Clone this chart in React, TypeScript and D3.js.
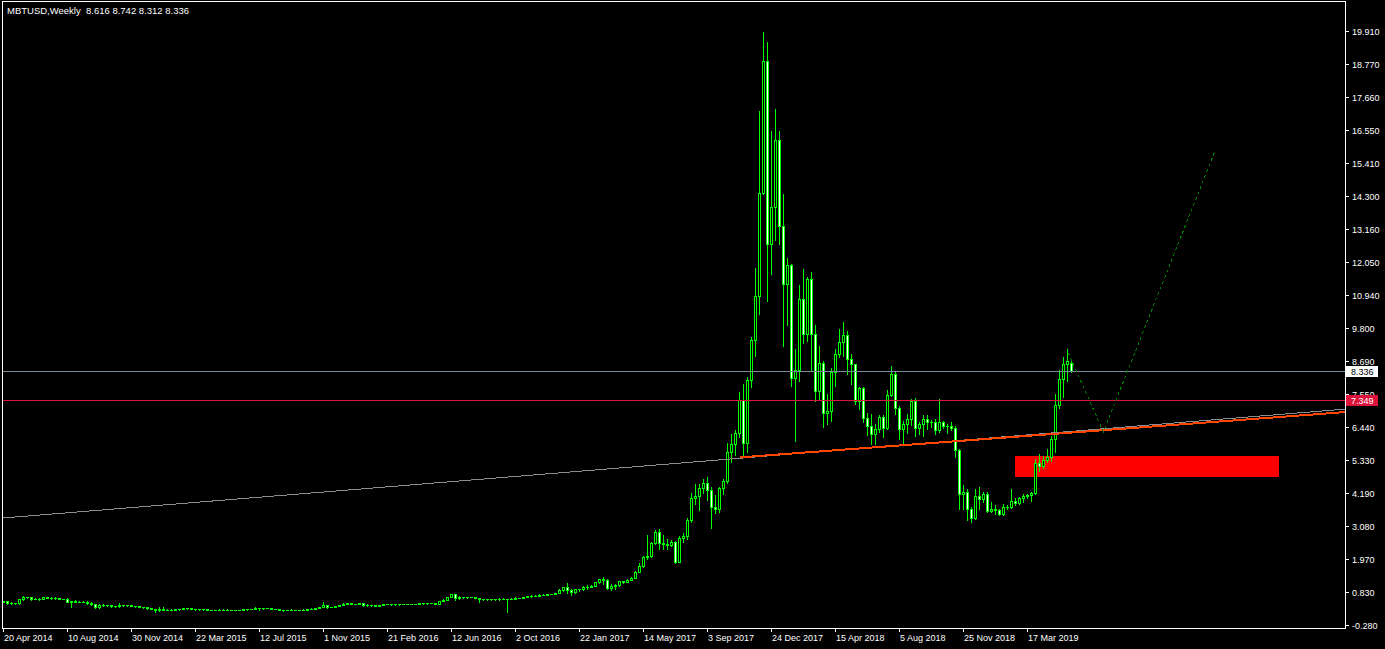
import * as React from 'react';
import * as d3 from "d3";
import { useRef, useEffect } from 'react';

// Window size of the MT4 chart
const width = 1385
const height = 649

// Weekly bars of MBTUSD, first bar is the week of 20 Apr 2014
export const opens: number[] = [
    0.50, 0.515, 0.47, 0.455, 0.45, 0.59, 0.66, 0.65, 0.60, 0.61,
    0.60, 0.65, 0.64, 0.63, 0.62, 0.60, 0.60, 0.51, 0.52, 0.51,
    0.51, 0.51, 0.45, 0.42, 0.32, 0.40, 0.39, 0.38, 0.35, 0.35,
    0.40, 0.38, 0.38, 0.37, 0.35, 0.32, 0.32, 0.28, 0.27, 0.21,
    0.25, 0.23, 0.23, 0.235, 0.245, 0.255, 0.28, 0.29, 0.27, 0.25,
    0.255, 0.25, 0.225, 0.225, 0.235, 0.24, 0.24, 0.24, 0.23, 0.225,
    0.235, 0.245, 0.25, 0.27, 0.29, 0.275, 0.29, 0.28, 0.265, 0.26,
    0.23, 0.23, 0.24, 0.24, 0.23, 0.235, 0.24, 0.245, 0.27, 0.285,
    0.32, 0.38, 0.335, 0.325, 0.36, 0.39, 0.44, 0.45, 0.42, 0.43,
    0.45, 0.38, 0.40, 0.38, 0.375, 0.40, 0.43, 0.43, 0.41, 0.415,
    0.41, 0.415, 0.42, 0.42, 0.43, 0.45, 0.45, 0.46, 0.455, 0.44,
    0.53, 0.575, 0.665, 0.76, 0.62, 0.67, 0.66, 0.665, 0.66, 0.63,
    0.59, 0.585, 0.58, 0.58, 0.605, 0.61, 0.61, 0.605, 0.61, 0.62,
    0.64, 0.65, 0.70, 0.70, 0.70, 0.745, 0.735, 0.765, 0.77, 0.79,
    0.91, 1.00, 0.89, 0.82, 0.92, 0.92, 1.02, 1.00, 1.05, 1.17,
    1.27, 1.24, 0.97, 1.04, 1.08, 1.20, 1.19, 1.25, 1.32, 1.51,
    1.72, 2.04, 2.05, 2.50, 2.87, 2.51, 2.47, 2.42, 2.53, 1.87,
    2.66, 2.73, 3.28, 4.03, 4.10, 4.37, 4.55, 4.30, 3.71, 3.66,
    4.36, 4.61, 5.60, 5.85, 6.24, 7.37, 5.89, 8.05, 9.41, 10.88,
    14.39, 18.88, 12.65, 13.92, 16.21, 13.29, 11.29, 11.94, 8.12, 8.37,
    10.79, 9.59, 11.47, 9.59, 7.66, 8.61, 6.91, 6.98, 8.31, 8.93,
    9.33, 9.57, 8.76, 8.57, 7.31, 7.76, 6.74, 6.49, 6.20, 6.38,
    6.79, 6.40, 7.52, 8.24, 7.08, 6.36, 6.54, 6.72, 7.33, 6.40,
    6.54, 6.72, 6.61, 6.61, 6.34, 6.63, 6.47, 6.49, 6.40, 5.66,
    4.16, 4.23, 3.66, 3.35, 4.09, 3.98, 4.18, 3.60, 3.64, 3.62,
    3.50, 3.73, 3.72, 3.93, 3.87, 4.02, 4.09, 4.14, 4.21, 5.22,
    5.12, 5.32, 5.41, 6.04, 7.20, 8.06, 8.59, 8.616
]

export const highs: number[] = [
    0.53, 0.52, 0.48, 0.47, 0.60, 0.69, 0.68, 0.66, 0.63, 0.62,
    0.68, 0.66, 0.65, 0.67, 0.63, 0.61, 0.62, 0.54, 0.56, 0.52,
    0.52, 0.52, 0.50, 0.42, 0.41, 0.41, 0.40, 0.38, 0.36, 0.45,
    0.40, 0.39, 0.40, 0.37, 0.36, 0.33, 0.33, 0.30, 0.27, 0.31,
    0.31, 0.25, 0.25, 0.26, 0.26, 0.30, 0.30, 0.29, 0.27, 0.26,
    0.26, 0.25, 0.235, 0.24, 0.245, 0.245, 0.245, 0.24, 0.23, 0.24,
    0.25, 0.255, 0.27, 0.31, 0.30, 0.295, 0.30, 0.285, 0.27, 0.26,
    0.24, 0.24, 0.25, 0.24, 0.24, 0.245, 0.25, 0.275, 0.29, 0.34,
    0.50, 0.38, 0.34, 0.37, 0.40, 0.46, 0.47, 0.46, 0.44, 0.46,
    0.46, 0.42, 0.40, 0.39, 0.405, 0.44, 0.44, 0.44, 0.42, 0.42,
    0.42, 0.425, 0.425, 0.435, 0.46, 0.465, 0.465, 0.46, 0.46, 0.54,
    0.58, 0.67, 0.78, 0.78, 0.70, 0.68, 0.68, 0.68, 0.665, 0.63,
    0.60, 0.59, 0.585, 0.61, 0.63, 0.615, 0.61, 0.615, 0.65, 0.645,
    0.66, 0.71, 0.74, 0.72, 0.75, 0.75, 0.77, 0.78, 0.79, 0.93,
    1.02, 1.15, 0.92, 0.93, 0.93, 1.04, 1.07, 1.06, 1.19, 1.29,
    1.33, 1.26, 1.10, 1.10, 1.22, 1.22, 1.27, 1.36, 1.55, 1.83,
    2.07, 2.78, 2.55, 2.94, 2.98, 2.78, 2.62, 2.61, 2.56, 2.74,
    2.85, 3.35, 4.21, 4.52, 4.50, 4.68, 4.73, 4.41, 4.14, 4.41,
    4.66, 5.89, 6.21, 6.35, 7.64, 7.91, 8.14, 9.50, 11.85, 17.18,
    19.88, 19.54, 16.50, 17.26, 16.50, 14.37, 12.19, 11.99, 9.11, 11.28,
    11.82, 11.54, 11.72, 9.90, 9.21, 8.68, 7.55, 8.45, 9.10, 9.78,
    10.01, 9.70, 8.92, 8.60, 7.81, 7.81, 6.93, 6.88, 6.54, 6.86,
    6.86, 7.70, 8.51, 8.31, 7.15, 6.65, 6.88, 7.38, 7.43, 6.61,
    6.84, 6.84, 6.68, 6.72, 7.38, 6.66, 6.56, 6.61, 6.49, 5.70,
    4.48, 4.34, 3.71, 4.34, 4.40, 4.25, 4.25, 3.89, 3.80, 3.66,
    3.83, 3.80, 4.32, 4.02, 4.07, 4.16, 4.18, 4.25, 5.36, 5.54,
    5.45, 5.70, 6.15, 7.56, 8.38, 8.81, 9.10, 8.742
]

export const lows: number[] = [
    0.48, 0.44, 0.43, 0.43, 0.44, 0.57, 0.62, 0.55, 0.58, 0.56,
    0.59, 0.62, 0.61, 0.58, 0.58, 0.58, 0.50, 0.34, 0.49, 0.49,
    0.49, 0.43, 0.39, 0.30, 0.28, 0.37, 0.36, 0.33, 0.33, 0.34,
    0.35, 0.36, 0.36, 0.34, 0.31, 0.28, 0.26, 0.26, 0.17, 0.20,
    0.22, 0.21, 0.21, 0.23, 0.23, 0.25, 0.27, 0.25, 0.24, 0.24,
    0.24, 0.22, 0.22, 0.21, 0.23, 0.235, 0.23, 0.22, 0.22, 0.22,
    0.23, 0.24, 0.25, 0.26, 0.21, 0.27, 0.275, 0.26, 0.255, 0.22,
    0.20, 0.225, 0.23, 0.225, 0.225, 0.235, 0.235, 0.245, 0.265, 0.28,
    0.31, 0.30, 0.31, 0.315, 0.35, 0.38, 0.43, 0.41, 0.41, 0.42,
    0.36, 0.37, 0.37, 0.365, 0.37, 0.40, 0.41, 0.40, 0.40, 0.405,
    0.41, 0.41, 0.415, 0.42, 0.43, 0.44, 0.44, 0.445, 0.435, 0.44,
    0.52, 0.57, 0.66, 0.55, 0.61, 0.63, 0.64, 0.65, 0.62, 0.48,
    0.57, 0.565, 0.57, 0.57, 0.57, 0.60, 0.14, 0.60, 0.605, 0.615,
    0.63, 0.65, 0.68, 0.69, 0.69, 0.72, 0.73, 0.755, 0.765, 0.79,
    0.88, 0.79, 0.74, 0.79, 0.88, 0.91, 0.94, 0.99, 1.04, 1.15,
    1.10, 0.93, 0.89, 0.93, 1.04, 1.15, 1.18, 1.23, 1.32, 1.50,
    1.67, 1.97, 2.02, 2.46, 2.30, 2.30, 2.30, 2.40, 1.83, 1.85,
    2.55, 2.62, 3.21, 3.84, 3.62, 4.21, 3.96, 3.01, 3.53, 3.57,
    4.16, 4.55, 5.25, 5.50, 6.10, 5.45, 5.60, 7.80, 8.84, 10.29,
    14.35, 10.72, 11.65, 12.81, 12.65, 9.21, 9.90, 7.82, 5.98, 8.02,
    9.29, 9.36, 8.37, 7.32, 7.40, 6.44, 6.55, 6.64, 7.82, 8.82,
    8.84, 8.23, 7.92, 7.23, 7.06, 6.63, 6.16, 5.86, 5.86, 6.29,
    6.09, 6.36, 7.49, 6.88, 6.02, 5.91, 6.25, 6.50, 6.13, 6.20,
    6.13, 6.36, 6.43, 6.20, 6.27, 6.40, 6.25, 6.33, 5.41, 3.64,
    3.66, 3.27, 3.23, 3.30, 3.66, 3.91, 3.55, 3.55, 3.48, 3.44,
    3.44, 3.64, 3.69, 3.78, 3.84, 3.91, 4.03, 3.93, 4.16, 4.95,
    5.04, 5.25, 5.29, 5.59, 7.08, 7.45, 7.99, 8.312
]

export const closes: number[] = [
    0.515, 0.47, 0.455, 0.45, 0.59, 0.66, 0.65, 0.60, 0.61, 0.60,
    0.65, 0.64, 0.63, 0.62, 0.60, 0.60, 0.51, 0.52, 0.51, 0.51,
    0.51, 0.45, 0.42, 0.32, 0.40, 0.39, 0.38, 0.35, 0.35, 0.40,
    0.38, 0.38, 0.37, 0.35, 0.32, 0.32, 0.28, 0.27, 0.21, 0.25,
    0.23, 0.23, 0.235, 0.245, 0.255, 0.28, 0.29, 0.27, 0.25, 0.255,
    0.25, 0.225, 0.225, 0.235, 0.24, 0.24, 0.24, 0.23, 0.225, 0.235,
    0.245, 0.25, 0.27, 0.29, 0.275, 0.29, 0.28, 0.265, 0.26, 0.23,
    0.23, 0.24, 0.24, 0.23, 0.235, 0.24, 0.245, 0.27, 0.285, 0.32,
    0.38, 0.335, 0.325, 0.36, 0.39, 0.44, 0.45, 0.42, 0.43, 0.45,
    0.38, 0.40, 0.38, 0.375, 0.40, 0.43, 0.43, 0.41, 0.415, 0.41,
    0.415, 0.42, 0.42, 0.43, 0.45, 0.45, 0.46, 0.455, 0.44, 0.53,
    0.575, 0.665, 0.76, 0.62, 0.67, 0.66, 0.665, 0.66, 0.63, 0.59,
    0.585, 0.58, 0.58, 0.605, 0.61, 0.61, 0.605, 0.61, 0.62, 0.64,
    0.65, 0.70, 0.70, 0.70, 0.745, 0.735, 0.765, 0.77, 0.79, 0.91,
    1.00, 0.89, 0.82, 0.92, 0.92, 1.02, 1.00, 1.05, 1.17, 1.27,
    1.24, 0.97, 1.04, 1.08, 1.20, 1.19, 1.25, 1.32, 1.51, 1.72,
    2.04, 2.05, 2.50, 2.87, 2.51, 2.47, 2.42, 2.53, 1.87, 2.66,
    2.73, 3.28, 4.03, 4.10, 4.37, 4.55, 4.30, 3.71, 3.66, 4.36,
    4.61, 5.60, 5.85, 6.24, 7.37, 5.89, 8.05, 9.41, 10.88, 14.39,
    18.88, 12.65, 13.92, 16.21, 13.29, 11.29, 11.94, 8.12, 8.37, 10.79,
    9.59, 11.47, 9.59, 7.66, 8.61, 6.91, 6.98, 8.31, 8.93, 9.33,
    9.57, 8.76, 8.57, 7.31, 7.76, 6.74, 6.49, 6.20, 6.38, 6.79,
    6.40, 7.52, 8.24, 7.08, 6.36, 6.54, 6.72, 7.33, 6.40, 6.54,
    6.72, 6.61, 6.61, 6.34, 6.63, 6.47, 6.49, 6.40, 5.66, 4.16,
    4.23, 3.66, 3.35, 4.09, 3.98, 4.18, 3.60, 3.64, 3.62, 3.50,
    3.73, 3.72, 3.93, 3.87, 4.02, 4.09, 4.14, 4.21, 5.22, 5.12,
    5.32, 5.41, 6.04, 7.20, 8.06, 8.59, 8.70, 8.336
]

// Time axis: one label every 16 bars
export const dateStep = 16
export const dateLabels = [
    "20 Apr 2014", "10 Aug 2014", "30 Nov 2014", "22 Mar 2015", "12 Jul 2015",
    "1 Nov 2015", "21 Feb 2016", "12 Jun 2016", "2 Oct 2016", "22 Jan 2017",
    "14 May 2017", "3 Sep 2017", "24 Dec 2017", "15 Apr 2018", "5 Aug 2018",
    "25 Nov 2018", "17 Mar 2019"
]

// Price axis labels
export const priceLabels = [
    "19.910", "18.770", "17.660", "16.550", "15.410", "14.300", "13.160",
    "12.050", "10.940", "9.800", "8.690", "7.550", "6.440", "5.330",
    "4.190", "3.080", "1.970", "0.830", "-0.280"
]

// Objects drawn on the chart (bar index, price)
export const bidPrice = 8.336
export const levelPrice = 7.349
export const greyTrend: [number, number][] = [[0, 3.35], [335.5, 7.05]]
export const orangeTrend: [number, number][] = [[184.25, 5.41], [335.5, 6.95]]
export const projection: [number, number][] = [[266.3, 8.97], [275.1, 6.28], [303.1, 15.86]]
export const zoneBars = [253, 319]
export const zonePrices = [5.46, 4.76]

const lime = "#00ff00"
const font = "'Liberation Sans', Arial, sans-serif"

export default function App() {
    const svgRef = useRef<SVGSVGElement>(null)

    useEffect(() => {
        const svg = d3.select(svgRef.current)
        svg.selectAll("*").remove()

        // plot frame (pixels)
        const left = 3, right = 1345, top = 2, bottom = 628

        const x = d3.scaleLinear().domain([0, 1]).range([3, 7])
        const y = d3.scaleLinear().domain([-0.28, 19.91]).range([624.8, 30.8])
        const px = (i: number) => Math.round(x(i))
        const py = (v: number) => Math.round(y(v))

        svg.append("rect").attr("width", width).attr("height", height).attr("fill", "#000")

        svg.append("defs").append("clipPath")
            .attr("id", "plot-clip")
            .append("rect")
            .attr("x", left).attr("y", top)
            .attr("width", right - left).attr("height", bottom - top)

        const plot = svg.append("g")
            .attr("clip-path", "url(#plot-clip)")
            .attr("shape-rendering", "crispEdges")

        // filled zone sits behind the bars
        plot.append("rect")
            .attr("x", px(zoneBars[0]))
            .attr("y", py(zonePrices[0]))
            .attr("width", px(zoneBars[1]) - px(zoneBars[0]))
            .attr("height", py(zonePrices[1]) - py(zonePrices[0]))
            .attr("fill", "#ff0000")

        // candles
        const bars = plot.append("g")
        closes.forEach((c, i) => {
            const o = opens[i]
            const cx = px(i)
            const yH = py(highs[i]), yL = py(lows[i])
            const yT = Math.min(py(o), py(c)), yB = Math.max(py(o), py(c))
            bars.append("rect").attr("x", cx).attr("y", yH)
                .attr("width", 1).attr("height", yL - yH + 1).attr("fill", lime)
            bars.append("rect").attr("x", cx - 1).attr("y", yT)
                .attr("width", 3).attr("height", yB - yT + 1).attr("fill", lime)
            if (yB - yT >= 2) {
                bars.append("rect").attr("x", cx).attr("y", yT + 1)
                    .attr("width", 1).attr("height", yB - yT - 1)
                    .attr("fill", c < o ? "#ffffff" : "#000000")
            }
        })

        const line = d3.line<[number, number]>()
            .x(d => x(d[0]))
            .y(d => y(d[1]))

        plot.append("path").datum(greyTrend)
            .attr("d", line).attr("fill", "none")
            .attr("stroke", "#8c8c8c").attr("stroke-width", 1)
        plot.append("path").datum(orangeTrend)
            .attr("d", line).attr("fill", "none")
            .attr("stroke", "#ff4500").attr("stroke-width", 2)

        // horizontal level and bid line
        plot.append("line")
            .attr("x1", left).attr("x2", right)
            .attr("y1", py(levelPrice) + 0.5).attr("y2", py(levelPrice) + 0.5)
            .attr("stroke", "#dc143c")
        plot.append("line")
            .attr("x1", left).attr("x2", right)
            .attr("y1", py(bidPrice) + 0.5).attr("y2", py(bidPrice) + 0.5)
            .attr("stroke", "#778899")

        plot.append("path").datum(projection)
            .attr("d", line).attr("fill", "none")
            .attr("stroke", "#008000").attr("stroke-width", 1)
            .attr("stroke-dasharray", "3,3")

        // frame
        svg.append("rect")
            .attr("x", left - 0.5).attr("y", top - 0.5)
            .attr("width", right - left + 1).attr("height", bottom - top + 1)
            .attr("fill", "none").attr("stroke", "#fff")
            .attr("shape-rendering", "crispEdges")

        // price axis
        const yAxis = svg.append("g").attr("font-family", font).attr("font-size", 9).attr("fill", "#fff")
        priceLabels.forEach(label => {
            const yy = py(+label)
            yAxis.append("rect").attr("x", right + 1).attr("y", yy)
                .attr("width", 3).attr("height", 1)
            yAxis.append("text").attr("x", right + 7).attr("y", yy + 3.5).text(label)
        })

        // price tags for the level and the bid
        const tag = (price: number, bg: string, fg: string) => {
            const yy = py(price)
            yAxis.append("rect").attr("x", right + 1).attr("y", yy - 5)
                .attr("width", 32).attr("height", 11).attr("fill", bg)
            yAxis.append("text").attr("x", right + 6).attr("y", yy + 3.5)
                .attr("fill", fg).text(price.toFixed(3))
        }
        tag(levelPrice, "#dc143c", "#ffffff")
        tag(bidPrice, "#ffffff", "#000000")

        // time axis
        const xAxis = svg.append("g").attr("font-family", font).attr("font-size", 9).attr("fill", "#fff")
        dateLabels.forEach((label, k) => {
            const xx = px(k * dateStep)
            xAxis.append("rect").attr("x", xx).attr("y", bottom + 1)
                .attr("width", 1).attr("height", 3)
            xAxis.append("text").attr("x", xx + 1).attr("y", 641).text(label)
        })

        // header
        const n = closes.length - 1
        svg.append("text")
            .attr("x", 7).attr("y", 14)
            .attr("font-family", font).attr("font-size", 9.5).attr("fill", "#fff")
            .attr("xml:space", "preserve")
            .style("white-space", "pre")
            .text(`MBTUSD,Weekly  ${opens[n].toFixed(3)} ${highs[n].toFixed(3)} ${lows[n].toFixed(3)} ${closes[n].toFixed(3)}`)
    }, [])

    return <svg ref={svgRef} width={width} height={height}
        style={{ position: "absolute", left: 0, top: 0, display: "block" }} />
}
